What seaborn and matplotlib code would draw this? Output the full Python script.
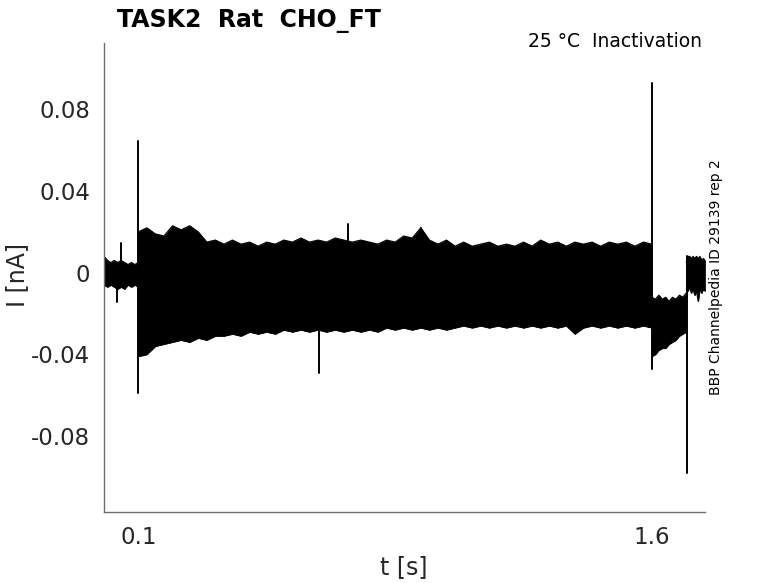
import numpy as np
import pandas as pd
import matplotlib
matplotlib.use("Agg")
import matplotlib.pyplot as plt
import seaborn as sns

# === Values (t in s, I in nA) ===
# holding segment before the step
t_hold = [0.0, 0.01, 0.02, 0.03, 0.04, 0.05, 0.06, 0.07, 0.08, 0.09, 0.1]
hold_hi = [0.008, 0.006, 0.005, 0.006, 0.005, 0.006, 0.005, 0.004, 0.005, 0.004, 0.005]
hold_lo = [-0.006, -0.007, -0.006, -0.007, -0.008, -0.007, -0.008, -0.006, -0.007, -0.006, -0.007]

# conditioning pulses 0.1 - 1.6 s (envelope of all sweeps)
t_pulse = [0.100, 0.125, 0.150, 0.175, 0.200, 0.225, 0.250, 0.275, 0.300, 0.325,
           0.350, 0.375, 0.400, 0.425, 0.450, 0.475, 0.500, 0.525, 0.550, 0.575,
           0.600, 0.625, 0.650, 0.675, 0.700, 0.725, 0.750, 0.775, 0.800, 0.825,
           0.850, 0.875, 0.900, 0.925, 0.950, 0.975, 1.000, 1.025, 1.050, 1.075,
           1.100, 1.125, 1.150, 1.175, 1.200, 1.225, 1.250, 1.275, 1.300, 1.325,
           1.350, 1.375, 1.400, 1.425, 1.450, 1.475, 1.500, 1.525, 1.550, 1.575,
           1.600]
pulse_hi = [0.020, 0.022, 0.019, 0.018, 0.023, 0.021, 0.023, 0.020, 0.015, 0.016,
            0.014, 0.016, 0.014, 0.015, 0.013, 0.015, 0.014, 0.016, 0.015, 0.017,
            0.015, 0.016, 0.015, 0.017, 0.016, 0.015, 0.016, 0.015, 0.014, 0.016,
            0.015, 0.018, 0.017, 0.022, 0.016, 0.014, 0.016, 0.013, 0.015, 0.013,
            0.014, 0.015, 0.013, 0.014, 0.013, 0.015, 0.013, 0.016, 0.014, 0.015,
            0.013, 0.015, 0.014, 0.015, 0.013, 0.015, 0.014, 0.015, 0.013, 0.015,
            0.014]
pulse_lo = [-0.041, -0.040, -0.036, -0.035, -0.034, -0.033, -0.034, -0.032, -0.033, -0.031,
            -0.031, -0.030, -0.031, -0.029, -0.030, -0.029, -0.030, -0.028, -0.029, -0.028,
            -0.029, -0.028, -0.029, -0.028, -0.029, -0.028, -0.029, -0.028, -0.029, -0.027,
            -0.028, -0.027, -0.028, -0.027, -0.028, -0.027, -0.028, -0.027, -0.026, -0.027,
            -0.026, -0.027, -0.026, -0.027, -0.026, -0.027, -0.026, -0.027, -0.026, -0.027,
            -0.026, -0.030, -0.027, -0.026, -0.027, -0.026, -0.027, -0.026, -0.027, -0.026,
            -0.027]

# test pulse 1.6 - 1.7 s
t_test = [1.60, 1.61, 1.62, 1.63, 1.64, 1.65, 1.66, 1.67, 1.68, 1.69, 1.70]
test_hi = [-0.012, -0.013, -0.011, -0.013, -0.012, -0.014, -0.012, -0.013, -0.011, -0.012, -0.010]
test_lo = [-0.041, -0.040, -0.038, -0.037, -0.037, -0.035, -0.034, -0.033, -0.031, -0.030, -0.029]

# back to holding after 1.7 s
t_tail = [1.700, 1.705, 1.710, 1.715, 1.720, 1.725, 1.730, 1.735, 1.740, 1.745, 1.750, 1.755]
tail_hi = [0.005, 0.008, 0.008, 0.007, 0.008, 0.007, 0.008, 0.007, 0.008, 0.006, 0.007, 0.006]
tail_lo = [-0.008, -0.009, -0.007, -0.010, -0.008, -0.011, -0.009, -0.014, -0.008, -0.010, -0.008, -0.009]

# capacitive transients / single spikes: time, min, max
spike_t = [0.039, 0.050, 0.100, 0.628, 0.713, 0.925, 1.600, 1.701]
spike_lo = [-0.0143, 0.000, -0.0587, -0.049, 0.010, 0.010, -0.047, -0.098]
spike_hi = [0.000, 0.0145, 0.0646, -0.020, 0.024, 0.022, 0.093, 0.008]

# === Style ===
sns.set_style("white")
plt.rcParams['font.family'] = ['DejaVu Sans']
grey = '#6e6e6e'
txt = '#262626'

fig = plt.figure(figsize=(7.78, 5.83), dpi=100)
ax = fig.add_axes([0.1337, 0.1218, 0.9062 - 0.1337, 0.9262 - 0.1218])

segments = [(t_hold, hold_hi, hold_lo), (t_pulse, pulse_hi, pulse_lo),
            (t_test, test_hi, test_lo), (t_tail, tail_hi, tail_lo)]
for t, hi, lo in segments:
    ax.fill_between(t, lo, hi, facecolor='black', edgecolor='black', lw=0.5,
                    antialiased=False)
    sns.lineplot(x=t, y=hi, color='black', lw=0.8, ax=ax, estimator=None, sort=False)
    sns.lineplot(x=t, y=lo, color='black', lw=0.8, ax=ax, estimator=None, sort=False)

spikes = pd.DataFrame({
    't': np.repeat(spike_t, 2),
    'I': np.ravel(np.column_stack([spike_lo, spike_hi])),
    'unit': np.repeat(np.arange(len(spike_t)), 2),
})
sns.lineplot(data=spikes, x='t', y='I', units='unit', estimator=None, sort=False,
             color='black', lw=1.4, ax=ax)

ax.set_xlim(0, 1.755)
ax.set_ylim(-0.1172, 0.1125)
ax.set_xticks([0.1, 1.6])
ax.set_xticklabels(['0.1', '1.6'])
ax.set_yticks([-0.08, -0.04, 0, 0.04, 0.08])
ax.set_yticklabels(['-0.08', '-0.04', '0', '0.04', '0.08'])
ax.tick_params(direction='in', length=6, width=1, color=grey, labelcolor=txt,
               labelsize=16.5, pad=10)
for side in ['top', 'right']:
    ax.spines[side].set_visible(False)
for side in ['left', 'bottom']:
    ax.spines[side].set_color(grey)
    ax.spines[side].set_linewidth(1)

ax.set_xlabel('t [s]', fontsize=17, color=txt, va='center')
ax.set_ylabel('I [nA]', fontsize=17, color=txt, va='center')
ax.xaxis.set_label_coords(0.499, -0.117)
ax.yaxis.set_label_coords(-0.145, 0.505)

fig.text(117 / 778, 1 - 27 / 583, 'TASK2  Rat  CHO_FT', fontsize=17,
         fontweight='bold', color='black', ha='left', va='baseline')
fig.text(702 / 778, 1 - 47 / 583, '25 °C  Inactivation', fontsize=13.5,
         color='black', ha='right', va='baseline')
fig.text(716 / 778, 1 - 277 / 583, 'BBP Channelpedia ID 29139 rep 2', fontsize=10,
         color='black', rotation=90, ha='center', va='center')

fig.savefig('out.png', dpi=100)
